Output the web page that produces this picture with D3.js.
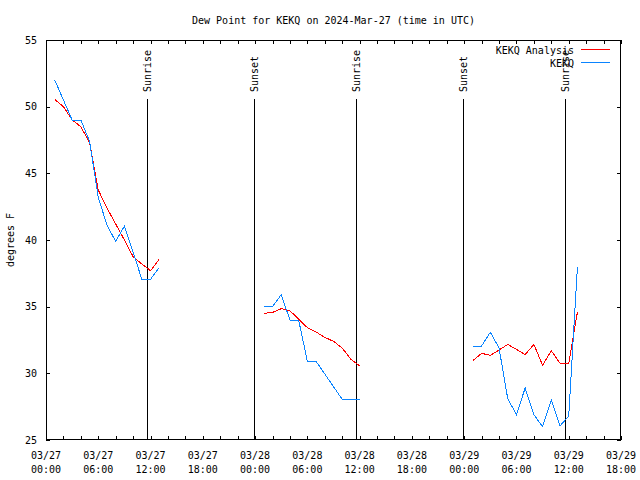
<!DOCTYPE html>
<html><head><meta charset="utf-8">
<script src="https://cdn.jsdelivr.net/npm/d3@7"></script>
<style>body{margin:0;background:#fff}svg{display:block}text{font-family:"DejaVu Sans Mono",monospace;font-size:10px;fill:#000}</style>
</head><body><svg id="c" width="640" height="480"></svg>
<script>
const titleText = "Dew Point for KEKQ on 2024-Mar-27 (time in UTC)";
const baseTime = Date.UTC(2024, 2, 27, 0, 0);
// hours after 2024-03-27 00:00 UTC
const seg1Hours = [1,2,3,4,5,6,7,8,9,10,11,12,13];
const seg2Hours = [25,26,27,28,29,30,31,32,33,34,35,36];
const seg3Hours = [49,50,51,52,53,54,55,56,57,58,59,60,61];
const analysisSeg1 = [50.55,50.0,49.0,48.5,47.3,43.75,42.4,41.2,40.0,38.75,38.2,37.7,38.55];
const analysisSeg2 = [34.5,34.57,34.85,34.7,34.05,33.43,33.1,32.7,32.4,31.9,31.05,30.55];
const analysisSeg3 = [30.95,31.5,31.35,31.75,32.17,31.8,31.4,32.17,30.6,31.7,30.75,30.75,34.6];
const obsSeg1 = [52.0,50.5,49.0,49.0,47.4,43.2,41.1,39.9,41.05,39.1,37.05,37.05,37.95];
const obsSeg2 = [35.05,35.0,35.9,34.0,34.0,30.9,30.9,29.95,29.0,28.05,28.05,28.05];
const obsSeg3 = [32.05,32.05,33.08,31.9,28.1,26.9,28.9,26.9,26.0,28.0,26.05,26.8,38.0];
const seriesNames = ["KEKQ Analysis", "KEKQ"];
const seriesColors = ["#ff0000", "#0a84ff"];
const sunEventHours = [11.65, 23.87, 35.6, 47.86, 59.6];
const sunEventLabels = ["Sunrise", "Sunset", "Sunrise", "Sunset", "Sunrise"];
const yTicks = [25,30,35,40,45,50,55];
const yLabel = "degrees F";

const svg = d3.select("#c");
const L = 46, R = 621, T = 40, B = 440;
const hr = h => new Date(baseTime + h * 3600e3);
const x = d3.scaleUtc().domain([hr(0), hr(66)]).range([L, R]);
const y = d3.scaleLinear().domain([25, 55]).range([B, T]);

function build(hoursList, valsList) {
  const out = [];
  hoursList.forEach((hs, i) => {
    hs.forEach((h, j) => out.push({t: hr(h), v: valsList[i][j]}));
    out.push({t: null, v: null});
  });
  return out;
}
const allHours = [seg1Hours, seg2Hours, seg3Hours];
const series = [
  build(allHours, [analysisSeg1, analysisSeg2, analysisSeg3]),
  build(allHours, [obsSeg1, obsSeg2, obsSeg3])
];

// title
svg.append("text").attr("x", (L + R) / 2).attr("y", 24).attr("text-anchor", "middle").text(titleText);

// frame
svg.append("rect").attr("x", L + 0.5).attr("y", T + 0.5).attr("width", R - L - 1).attr("height", B - T - 1)
  .attr("fill", "none").attr("stroke", "#000").attr("stroke-width", 1).attr("shape-rendering", "crispEdges");

// x ticks (every 2h) bottom & top, labels every 6h
const minorTicks = d3.range(0, 67, 2).map(hr);
const xb = svg.append("g").attr("transform", `translate(0,${B})`)
  .call(d3.axisBottom(x).tickValues(minorTicks).tickSizeInner(-4).tickSizeOuter(0).tickFormat(""));
const xt = svg.append("g").attr("transform", `translate(0,${T})`)
  .call(d3.axisTop(x).tickValues(minorTicks).tickSizeInner(-4).tickSizeOuter(0).tickFormat(""));
[xb, xt].forEach(g => { g.select(".domain").remove(); g.selectAll("line").attr("stroke", "#000").attr("shape-rendering", "crispEdges"); });

const majorTicks = d3.range(0, 67, 6).map(hr);
const fmtD = d3.utcFormat("%m/%d"), fmtT = d3.utcFormat("%H:%M");
majorTicks.forEach(d => {
  const t = svg.append("text").attr("x", x(d)).attr("text-anchor", "middle");
  t.append("tspan").attr("x", x(d)).attr("y", 459).text(fmtD(d));
  t.append("tspan").attr("x", x(d)).attr("y", 473).text(fmtT(d));
});

// y ticks left & right
const yl = svg.append("g").attr("transform", `translate(${L},0)`)
  .call(d3.axisLeft(y).tickValues(yTicks).tickSizeInner(-4).tickSizeOuter(0).tickPadding(9));
const yr = svg.append("g").attr("transform", `translate(${R},0)`)
  .call(d3.axisRight(y).tickValues(yTicks).tickSizeInner(-4).tickSizeOuter(0).tickFormat(""));
[yl, yr].forEach(g => { g.select(".domain").remove(); g.selectAll("line").attr("stroke", "#000").attr("shape-rendering", "crispEdges"); });
yl.selectAll("text").attr("font-family", null).attr("font-size", null).style("font-family", "DejaVu Sans Mono").style("font-size", "10px").attr("fill", "#000");

svg.append("text").attr("transform", `translate(14,${(T + B) / 2}) rotate(-90)`).attr("text-anchor", "middle").text(yLabel);

// sun events
sunEventHours.forEach((h, i) => {
  const xx = Math.round(x(hr(h))) + 0.5;
  svg.append("line").attr("x1", xx).attr("x2", xx).attr("y1", 99).attr("y2", B)
    .attr("stroke", "#000").attr("stroke-width", 1).attr("shape-rendering", "crispEdges");
  svg.append("text").attr("transform", `translate(${xx + 3.5},92) rotate(-90)`).attr("text-anchor", "start").text(sunEventLabels[i]);
});

// lines
const line = d3.line().defined(d => d.t !== null).x(d => x(d.t)).y(d => y(d.v));
series.forEach((s, i) => {
  svg.append("path").datum(s).attr("d", line).attr("fill", "none").attr("stroke", seriesColors[i])
    .attr("stroke-width", 1).attr("shape-rendering", "crispEdges");
});

// legend
seriesNames.forEach((n, i) => {
  const yy = 49.5 + i * 13;
  svg.append("text").attr("x", 574).attr("y", yy + 4).attr("text-anchor", "end").text(n);
  svg.append("line").attr("x1", 581).attr("x2", 610).attr("y1", yy).attr("y2", yy)
    .attr("stroke", seriesColors[i]).attr("stroke-width", 1).attr("shape-rendering", "crispEdges");
});
</script></body></html>
